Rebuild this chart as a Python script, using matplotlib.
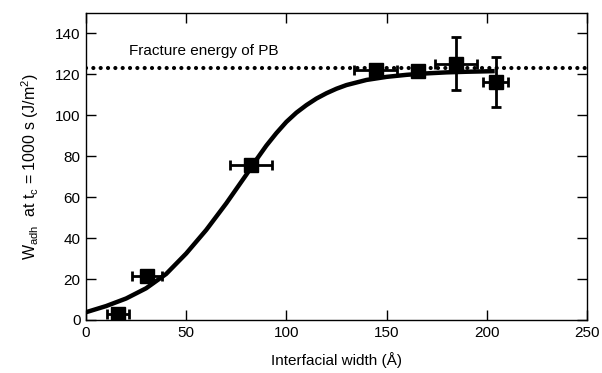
import matplotlib
matplotlib.use("Agg")
import matplotlib.pyplot as plt

plt.rcParams['font.family'] = ['Liberation Sans', 'DejaVu Sans']
plt.rcParams['mathtext.default'] = 'regular'

# measured points
width = [16, 30.5, 82.5, 144.5, 165.5, 184.5, 204.5]
w_adh = [3, 21.5, 75.6, 122.3, 121.6, 125.2, 116.2]
width_err = [5.5, 7.5, 10.5, 10.5, 0, 10.5, 6.3]
w_adh_err = [0, 0, 0, 1.0, 0, 13, 12.3]

# fitted curve
fit_x = [0, 10, 20, 30, 40, 50, 60, 70, 75, 80, 85, 90, 95, 100, 105, 110, 115,
         120, 125, 130, 140, 150, 160, 170, 180, 190, 204]
fit_y = [3.8, 6.8, 10.5, 15.5, 22.5, 32.5, 44, 57, 64, 71, 78.3, 85.2, 91.3,
         96.8, 101.3, 105, 108.2, 110.8, 113, 114.8, 117.3, 118.8, 119.8, 120.5,
         121, 121.3, 121.6]

fracture_energy = 123

fig = plt.figure(figsize=(6.02, 3.73), dpi=100)
ax = fig.add_axes([0.1429, 0.1421, 0.832, 0.823])

ax.axhline(fracture_energy, color='black', lw=3.0, linestyle=(0, (0.01, 1.75)),
           dash_capstyle='round', zorder=1)
ax.plot(fit_x, fit_y, color='black', lw=3.2, solid_capstyle='butt',
        solid_joinstyle='round', zorder=2)
ax.errorbar(width, w_adh, xerr=width_err, yerr=w_adh_err, fmt='s', color='black',
            ms=10, elinewidth=2, capsize=3.5, capthick=2, zorder=3)

ax.text(21.5, 131.5, 'Fracture energy of PB', fontsize=11, va='center', ha='left')

ax.set_xlim(0, 250)
ax.set_ylim(0, 150)
ax.set_xticks([0, 50, 100, 150, 200, 250])
ax.set_yticks([0, 20, 40, 60, 80, 100, 120, 140])
ax.tick_params(direction='in', top=True, right=True, labeltop=False, labelright=False,
               length=7, width=1, labelsize=11, pad=4)
for s in ax.spines.values():
    s.set_linewidth(1)

ax.set_xlabel('Interfacial width (Å)', fontsize=11, labelpad=9)
ax.set_ylabel('W$_{adh}$  at t$_c$ = 1000 s (J/m$^2$)', fontsize=11.5, labelpad=10)

fig.savefig('out.png', dpi=100)
